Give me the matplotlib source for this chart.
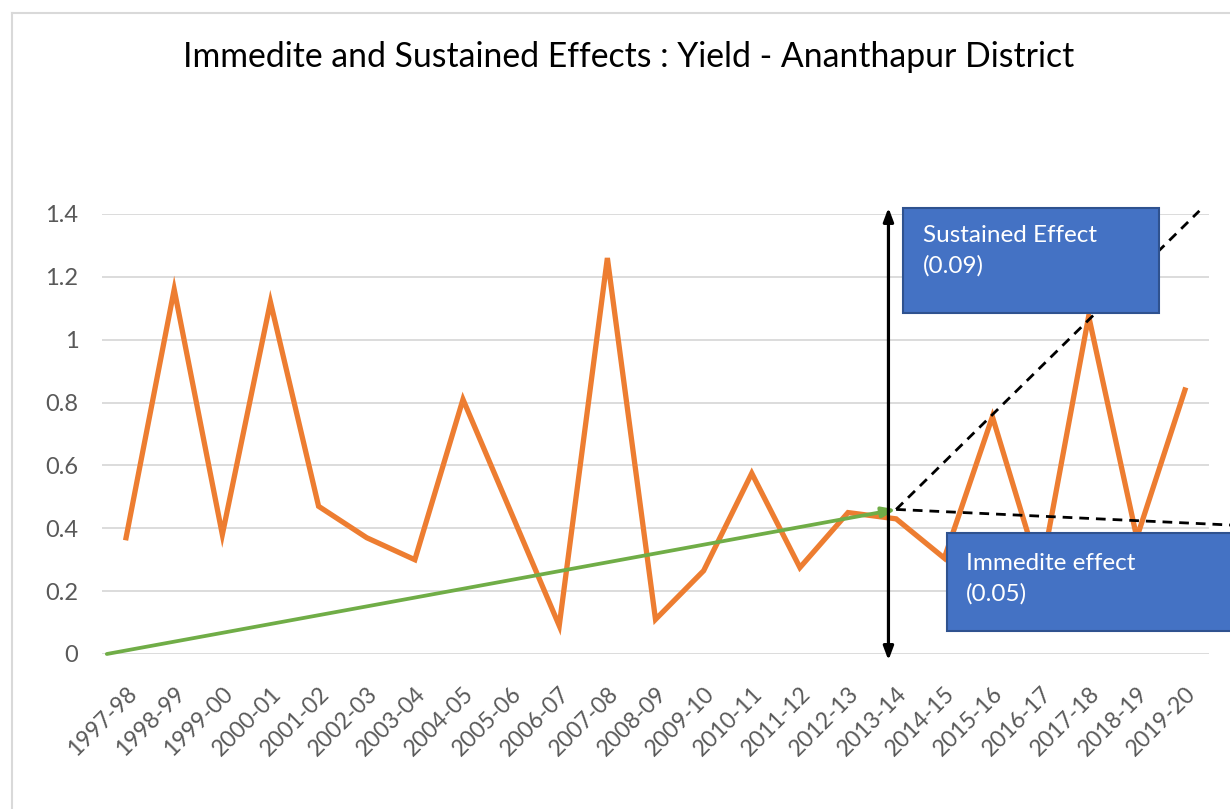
import numpy as np
import matplotlib
matplotlib.use('Agg')
import matplotlib.pyplot as plt
from matplotlib.patches import Rectangle
from matplotlib.lines import Line2D

plt.rcParams['font.family'] = ['Lato', 'DejaVu Sans']

seasons = ['1997-98', '1998-99', '1999-00', '2000-01', '2001-02', '2002-03',
           '2003-04', '2004-05', '2005-06', '2006-07', '2007-08', '2008-09',
           '2009-10', '2010-11', '2011-12', '2012-13', '2013-14', '2014-15',
           '2015-16', '2016-17', '2017-18', '2018-19', '2019-20']
yields = [0.37, 1.16, 0.38, 1.12, 0.47, 0.37, 0.30, 0.81, 0.45, 0.09, 1.26,
          0.11, 0.265, 0.575, 0.275, 0.45, 0.43, 0.305, 0.755, 0.25, 1.075,
          0.37, 0.84]
yticks = [0, 0.2, 0.4, 0.6, 0.8, 1.0, 1.2, 1.4]
ytick_labels = ['0', '0.2', '0.4', '0.6', '0.8', '1', '1.2', '1.4']

# annotation shapes (in data units)
trend_start = (-0.4, 0.0)
trend_end = (16.0, 0.46)
sustained_end = (22.3, 1.41)
immediate_end = (23.0, 0.41)
vert_x = 15.84
vert_range = (-0.02, 1.42)

fig = plt.figure(figsize=(12.3, 8.09), dpi=100)
ax = fig.add_axes([102 / 1230, 155 / 809, 1107 / 1230, 440 / 809])

x = np.arange(len(seasons))
ax.set_xlim(-0.5, len(seasons) - 0.5)
ax.set_ylim(0, 1.4)
ax.set_yticks(yticks)
ax.set_yticklabels(ytick_labels)
ax.set_xticks(x)
ax.set_xticklabels(seasons, rotation=45, ha='right', rotation_mode='anchor')
ax.tick_params(axis='both', length=0, colors='#595959')
ax.tick_params(axis='y', pad=17, labelsize=17)
ax.tick_params(axis='x', pad=21, labelsize=16.5)
for s in ax.spines.values():
    s.set_visible(False)
ax.grid(axis='y', color='#D9D9D9', lw=1.3)
ax.set_axisbelow(True)

ax.plot(x, yields, color='#ED7D31', lw=3.8, solid_joinstyle='miter', zorder=3)

# trend arrow
ax.annotate('', xy=trend_end, xytext=trend_start,
            arrowprops=dict(arrowstyle='-|>,head_length=0.8,head_width=0.3',
                            color='#70AD47', lw=2.7, shrinkA=0, shrinkB=0),
            annotation_clip=False, zorder=4)

# dashed projections
for end in (sustained_end, immediate_end):
    ax.add_line(Line2D([trend_end[0], end[0]], [trend_end[1], end[1]],
                       color='black', lw=2.0, ls=(0, (3.5, 2.5)), clip_on=False, zorder=4))

# vertical double arrow
ax.annotate('', xy=(vert_x, vert_range[1]), xytext=(vert_x, vert_range[0]),
            arrowprops=dict(arrowstyle='<|-|>,head_length=0.8,head_width=0.3',
                            color='black', lw=2.3, shrinkA=0, shrinkB=0),
            annotation_clip=False, zorder=4)

# text boxes
def box(x0, y0, w, h, text, tx, ty):
    ax.add_patch(Rectangle((x0, y0), w, h, facecolor='#4472C4', edgecolor='#2F528F',
                           lw=1.5, clip_on=False, zorder=5))
    ax.text(tx, ty, text, color='white', fontsize=17.5, va='top', ha='left',
            linespacing=1.5, zorder=6, clip_on=False)

box(16.14, 1.085, 5.32, 0.334, 'Sustained Effect\n(0.09)', 16.55, 1.365)
box(17.06, 0.073, 6.0, 0.312, 'Immedite effect\n(0.05)', 17.45, 0.32)

fig.text(629 / 1230, 1 - 57 / 809, 'Immedite and Sustained Effects : Yield - Ananthapur District',
         ha='center', va='center', fontsize=24.3, color='black')

# chart frame
fig.add_artist(Line2D([12 / 1230, 12 / 1230], [0, 1 - 13 / 809], color='#D9D9D9', lw=1.5))
fig.add_artist(Line2D([12 / 1230, 1], [1 - 13 / 809, 1 - 13 / 809], color='#D9D9D9', lw=1.5))

fig.savefig('out.png', dpi=100)
